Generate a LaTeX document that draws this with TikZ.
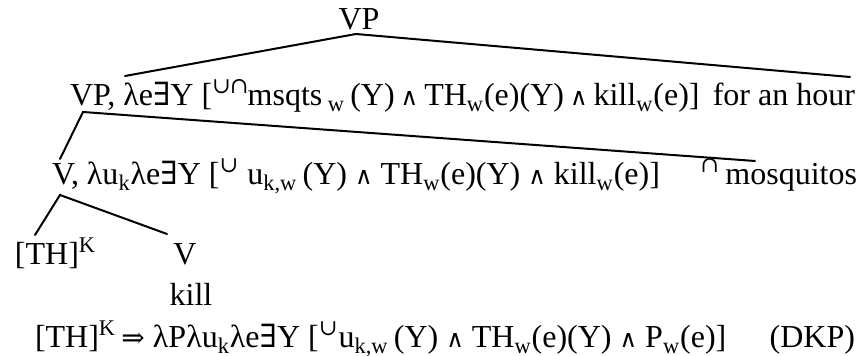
\documentclass[tikz,border=0pt]{standalone}
\usepackage{fontspec}
\setmainfont{Liberation Serif}
\newfontfamily\symf{DejaVu Serif}
\newcommand\Ex{{\symf ∃}}
\newcommand\Wedge{{\symf\fontsize{12}{14}\selectfont ∧}}
\newcommand\Impl{{\symf\fontsize{14}{16}\selectfont ⇒}}
\newcommand\Cup{{\symf ∪}}
\newcommand\Cap{{\symf ∩}}
\tikzset{
  txt/.style={inner sep=0pt, outer sep=0pt, font=\fontsize{16}{19}\selectfont},
  branch/.style={line width=1pt, line cap=round},
}
\begin{document}
\begin{tikzpicture}[x=0.5pt,y=-0.5pt]
\useasboundingbox (0,0) rectangle (863,356);
% nodes
\node[txt, anchor=base] (vp0) at (359,30) {VP};
\node[txt, anchor=base west] (vp1) at (70,106) {VP, λe\Ex Y [\textsuperscript{\Cup\kern-0.5pt\Cap}\kern-1pt msqts\,\textsubscript{w}\,(Y)\kern3pt\Wedge\kern3pt TH\textsubscript{w}(e)(Y)\kern3pt\Wedge\kern3pt kill\textsubscript{w}(e)]};
\node[txt, anchor=base east] (hour) at (855,106) {for an hour};
\node[txt, anchor=base west] (v1) at (52,185) {V, λu\textsubscript{k}λe\Ex Y [\textsuperscript{\Cup} u\textsubscript{k,w}\,(Y) \Wedge\ TH\textsubscript{w}(e)(Y) \Wedge\ kill\textsubscript{w}(e)]};
\node[txt, anchor=base east] (mosq) at (857,185) {\textsuperscript{\Cap}\,mosquitos};
\node[txt, anchor=base west] (th) at (15,265) {[TH]\textsuperscript{K}};
\node[txt, anchor=base] (v2) at (185,265) {V};
\node[txt, anchor=base] (kill) at (191,306) {kill};
\node[txt, anchor=base west] (dkp) at (35,348) {[TH]\textsuperscript{K}\,\Impl\ λPλu\textsubscript{k}λe\Ex Y [\textsuperscript{\Cup}u\textsubscript{k,w}\,(Y) \Wedge\ TH\textsubscript{w}(e)(Y) \Wedge\ P\textsubscript{w}(e)]};
\node[txt, anchor=base east] (dkplab) at (855,348) {(DKP)};
% branch points
\coordinate (a0) at (356,34);
\coordinate (a0l) at (125,76);
\coordinate (a0r) at (850,77);
\coordinate (a1) at (83,112);
\coordinate (a1l) at (60,159);
\coordinate (a1r) at (755,161);
\coordinate (a2) at (60,195);
\coordinate (a2l) at (35,235);
\coordinate (a2r) at (167,234);
\draw[branch] (a0l) -- (a0) -- (a0r);
\draw[branch] (a1l) -- (a1) -- (a1r);
\draw[branch] (a2l) -- (a2) -- (a2r);
\end{tikzpicture}
\end{document}
